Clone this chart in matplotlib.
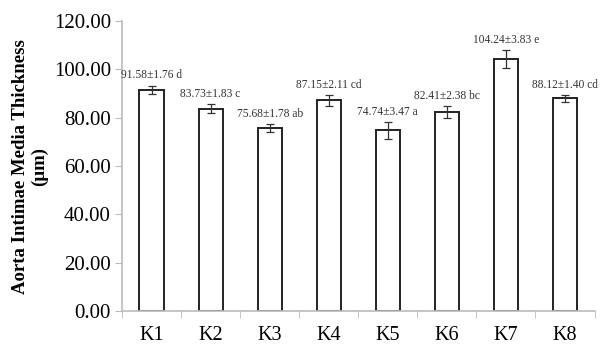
import matplotlib
matplotlib.use("Agg")
import matplotlib.pyplot as plt
import numpy as np

groups = ["K1", "K2", "K3", "K4", "K5", "K6", "K7", "K8"]
means = [91.58, 83.73, 75.68, 87.15, 74.74, 82.41, 104.24, 88.12]
sds = [1.76, 1.83, 1.78, 2.11, 3.47, 2.38, 3.83, 1.40]
letters = ["d", "c", "ab", "cd", "a", "bc", "e", "cd"]

plt.rcParams["font.family"] = ["Liberation Serif", "DejaVu Serif"]

fig = plt.figure(figsize=(6.05, 3.46), dpi=100)
ax = fig.add_axes([0.2017, 0.101, 0.781, 0.838])

x = np.arange(len(groups))
ax.bar(x, means, width=0.41, color="white", edgecolor="#222222", linewidth=1.4)
ax.errorbar(x, means, yerr=sds, fmt="none", ecolor="#333333", elinewidth=0.9,
            capsize=3, capthick=0.9)

for xi, m, s, lt in zip(x, means, sds, letters):
    ax.annotate(f"{m:.2f}±{s:.2f} {lt}", (xi, m + s), xytext=(0, 3),
                textcoords="offset points", ha="center", va="bottom",
                fontsize=8.3, color="#333333")

ax.set_xlim(-0.5, 7.5)
ax.set_ylim(0, 120)
ax.set_yticks(np.arange(0, 121, 20))
ax.set_yticklabels([f"{v:.2f}" for v in np.arange(0, 121, 20)], fontsize=15)
ax.set_xticks(x)
ax.set_xticklabels(groups, fontsize=14.5)
ax.set_xticks(np.arange(-0.5, 8, 1), minor=True)
ax.tick_params(axis="x", which="major", length=0, pad=11)
ax.tick_params(axis="x", which="minor", length=5, color="#bbbbbb")
ax.tick_params(axis="y", length=5, color="#bbbbbb", pad=3)

for side in ["top", "right"]:
    ax.spines[side].set_visible(False)
for side in ["left", "bottom"]:
    ax.spines[side].set_color("#bbbbbb")
    ax.spines[side].set_linewidth(1.2)

ax.set_ylabel("Aorta Intimae Media Thickness\n(µm)", fontsize=13.5,
              fontweight="bold", linespacing=1.15, labelpad=4)

fig.savefig("out.png", dpi=100)
